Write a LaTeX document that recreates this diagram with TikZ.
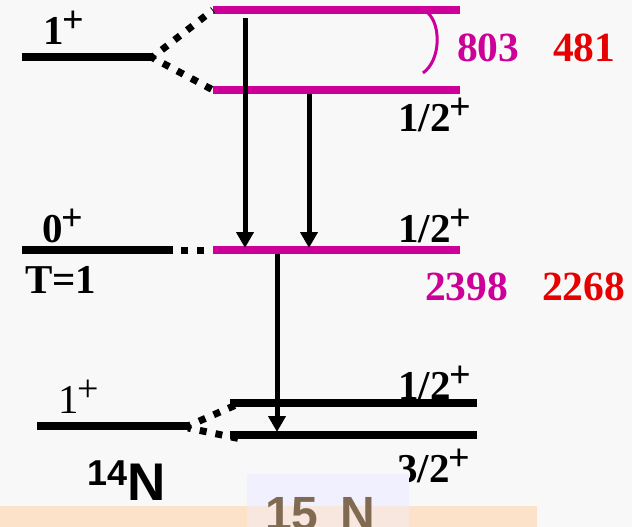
\documentclass[tikz,border=0pt]{standalone}
\usepackage{fontspec}
\setmainfont{Liberation Serif}
\newfontfamily\arialfont{Liberation Sans}
\usetikzlibrary{arrows.meta}
\definecolor{mag}{RGB}{204,0,153}
\definecolor{redn}{RGB}{230,0,0}
\definecolor{bgc}{RGB}{248,248,248}
\definecolor{peach}{RGB}{252,226,200}
\definecolor{paleblue}{RGB}{240,240,255}
\definecolor{brownt}{RGB}{128,106,82}
\newcommand\plusup{{\fontsize{38}{38}\selectfont\kern-1pt\raisebox{12pt}{+}}}
\begin{document}
\begin{tikzpicture}[x=1pt,y=-1pt,
  lvl/.style={line width=8pt},
  mlvl/.style={line width=8pt,draw=mag},
  dotl/.style={line width=7pt,dash pattern=on 7pt off 9pt},
  arr/.style={line width=5pt,-{Triangle[length=16pt,width=17pt]}},
  lab/.style={anchor=base west,inner sep=0pt,font=\fontsize{41}{41}\selectfont\bfseries},
  labr/.style={anchor=base west,inner sep=0pt,font=\fontsize{41}{41}\selectfont},
  num/.style={anchor=base west,inner sep=0pt,font=\fontsize{41.5}{41.5}\selectfont\bfseries}]
\useasboundingbox (0,0) rectangle (632,527);
\fill[bgc] (0,0) rectangle (632,527);
% coordinates
\coordinate (a1l) at (22,57.5);  \coordinate (a1r) at (152,57.5);
\coordinate (m1l) at (213,10);   \coordinate (m1r) at (460,10);
\coordinate (m2l) at (213,90);   \coordinate (m2r) at (460,90);
\coordinate (b0l) at (22,250);   \coordinate (b0r) at (173,250);
\coordinate (m3l) at (213,250);  \coordinate (m3r) at (460,250);
\coordinate (c1l) at (37,426);   \coordinate (c1r) at (188,426);
\coordinate (l1l) at (230,403);  \coordinate (l1r) at (477,403);
\coordinate (l2l) at (230,435);  \coordinate (l2r) at (477,435);
\coordinate (u1) at (236,405);   \coordinate (u2) at (246,440);
\coordinate (c1s) at (188,428);
% levels
\draw[lvl] (a1l) -- (a1r);
\draw[mlvl] (m1l) -- (m1r);
\draw[mlvl] (m2l) -- (m2r);
\draw[lvl] (b0l) -- (b0r);
\draw[mlvl] (m3l) -- (m3r);
\draw[lvl] (c1l) -- (c1r);
\draw[lvl] (l1l) -- (l1r);
\draw[lvl] (l2l) -- (l2r);
% dotted connectors
\draw[dotl,dash phase=3.5pt] (a1r) -- (m1l);
\draw[dotl,dash phase=3.5pt] (a1r) -- (m2l);
\draw[dotl,dash phase=8pt] (b0r) -- (m3l);
\draw[dotl,dash phase=4pt] (c1r) -- (u1);
\draw[dotl,dash phase=4pt] (c1s) -- (u2);
% arc
\draw[mag,line width=3pt] (428,13) .. controls (441,25) and (441,60) .. (423,73);
% arrows
\coordinate (t1) at (245,18);  \coordinate (h1) at (245,248);
\coordinate (t2) at (309,94);  \coordinate (h2) at (309,248);
\coordinate (t3) at (277,254); \coordinate (h3) at (277,432);
\draw[arr] (t1) -- (h1);
\draw[arr] (t2) -- (h2);
\draw[arr] (t3) -- (h3);
% labels
\node[lab] (la) at (43,45) {1\plusup};
\node[lab] (lb) at (42,242) {0\plusup};
\node[lab] (lc) at (25,293) {T=1};
\node[lab] (ld) at (398,131) {1/2\plusup};
\node[lab] (le) at (398,242) {1/2\plusup};
\node[lab] (lf) at (398,399) {1/2\plusup};
\node[lab] (lg) at (397,482) {3/2\plusup};
\node[labr] (lh) at (58,413) {1\plusup};
\node[num,text=mag] (n1) at (457,62) {803};
\node[num,text=redn] (n2) at (553,62) {481};
\node[num,text=mag] (n3) at (425,300) {2398};
\node[num,text=redn] (n4) at (542,300) {2268};
\node[anchor=base west,inner sep=0pt,font=\arialfont\bfseries\fontsize{53}{53}\selectfont] (n14) at (87,500) {\raisebox{15pt}{\fontsize{36}{36}\selectfont 14}N};
% bottom band
\fill[peach] (0,506) rectangle (537,527);
\fill[paleblue] (247,474) rectangle (409,506);
\fill[paleblue,opacity=0.4] (247,506) rectangle (409,527);
\node[anchor=base west,inner sep=0pt,text=brownt,font=\arialfont\bfseries\fontsize{48}{48}\selectfont] (n15) at (265,530) {15\hspace{22pt}N};
\end{tikzpicture}
\end{document}
